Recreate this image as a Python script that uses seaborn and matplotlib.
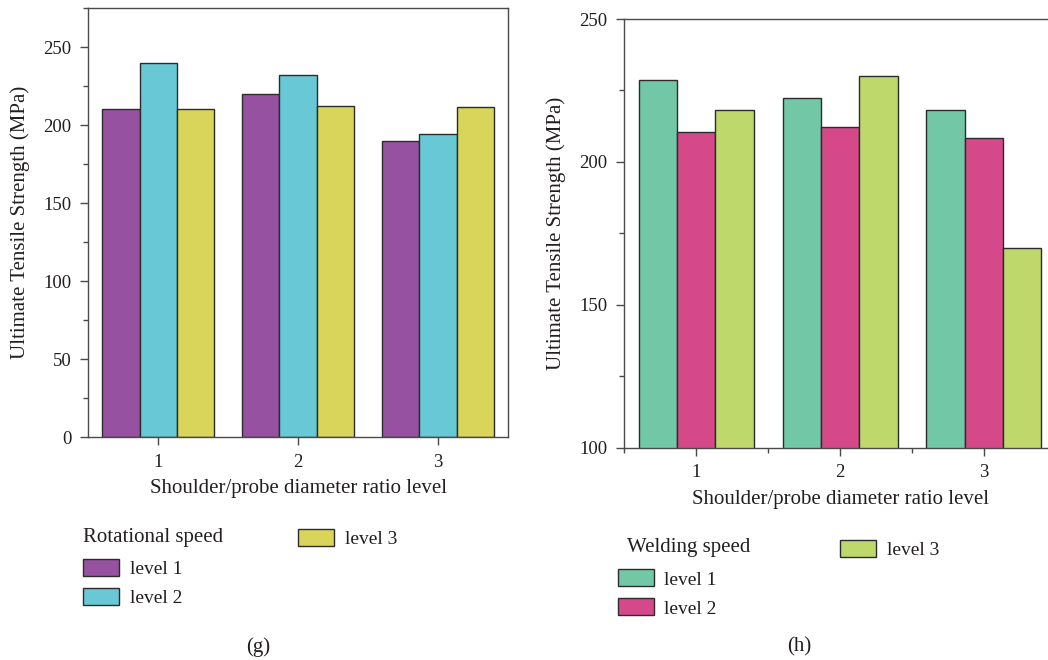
import numpy as np
import pandas as pd
import matplotlib.pyplot as plt
import seaborn as sns
from matplotlib.ticker import MultipleLocator, FixedLocator
from matplotlib.patches import Patch

# Categories
ratio_levels = ['1', '2', '3']
speed_levels = ['level 1', 'level 2', 'level 3']

# (g) UTS by rotational speed level
rot_level1 = [210, 220, 190]
rot_level2 = [240, 232, 194]
rot_level3 = [210, 212.5, 211.5]

# (h) UTS by welding speed level
weld_level1 = [228.5, 222.3, 218]
weld_level2 = [210.6, 212.1, 208.4]
weld_level3 = [218.3, 230.1, 170]

rot_colors = ['#9652A0', '#68C8D6', '#D9D55B']
weld_colors = ['#72C7A6', '#D5498B', '#BED86C']

txt = '#231F20'
spine_c = '#4a4a4a'
edge_c = '#2b2b2b'

sns.set_theme(style='ticks')
plt.rcParams['font.family'] = ['Liberation Serif', 'DejaVu Serif']
plt.rcParams['text.color'] = txt
plt.rcParams['axes.labelcolor'] = txt


def make_df(series):
    rows = []
    for lev, vals in zip(speed_levels, series):
        for r, v in zip(ratio_levels, vals):
            rows.append({'ratio': r, 'speed': lev, 'uts': v})
    return pd.DataFrame(rows)


df_g = make_df([rot_level1, rot_level2, rot_level3])
df_h = make_df([weld_level1, weld_level2, weld_level3])

W, H = 1048, 660
fig = plt.figure(figsize=(W / 100, H / 100), dpi=100)


def px_axes(x0, y0, x1, y1):
    return fig.add_axes([x0 / W, 1 - y1 / H, (x1 - x0) / W, (y1 - y0) / H])


ax_g = px_axes(88.3, 8, 508, 437.3)
ax_h = px_axes(624.3, 19, 1055.8, 447.7)

for ax, df, pal in [(ax_g, df_g, rot_colors), (ax_h, df_h, weld_colors)]:
    sns.barplot(data=df, x='ratio', y='uts', hue='speed', palette=pal,
                edgecolor=edge_c, linewidth=1, saturation=1, legend=False, ax=ax)
    ax.set_xlim(-0.5, 2.5)
    ax.set_xlabel('Shoulder/probe diameter ratio level', fontsize=15, labelpad=6)
    ax.set_ylabel('Ultimate Tensile Strength (MPa)', fontsize=15, labelpad=10)
    ax.tick_params(axis='both', which='major', direction='out', length=6, width=1,
                   color=spine_c, labelcolor=txt, labelsize=13.5, pad=6)
    ax.tick_params(axis='both', which='minor', direction='out', length=3.5, width=1,
                   color=spine_c)
    for s in ax.spines.values():
        s.set_color(spine_c)
        s.set_linewidth(1)

ax_g.set_ylim(0, 275)
ax_g.yaxis.set_major_locator(FixedLocator([0, 50, 100, 150, 200, 250]))
ax_g.yaxis.set_minor_locator(MultipleLocator(25))

ax_h.set_ylim(100, 250)
ax_h.yaxis.set_major_locator(MultipleLocator(50))
ax_h.yaxis.set_minor_locator(MultipleLocator(25))
ax_h.xaxis.set_minor_locator(FixedLocator([-0.5, 0.5, 1.5, 2.5]))


def px_legend(handles, labels, x, y):
    leg = fig.legend(handles, labels, loc='upper left',
                     bbox_to_anchor=(x / W, 1 - y / H), bbox_transform=fig.transFigure,
                     frameon=False, fontsize=14, borderpad=0, borderaxespad=0,
                     handlelength=1.85, handleheight=0.98, handletextpad=0.55,
                     labelspacing=0.5)
    return leg


def panel_legend(title, colors, title_xy, a_xy, b_xy):
    hs = [Patch(facecolor=c, edgecolor=edge_c, linewidth=1) for c in colors]
    px_legend(hs[:2], speed_levels[:2], *a_xy)
    px_legend(hs[2:], speed_levels[2:], *b_xy)
    fig.text(title_xy[0] / W, 1 - title_xy[1] / H, title, fontsize=15,
             ha='left', va='center')


panel_legend('Rotational speed', rot_colors, (83, 537.7), (83, 559), (298, 529))
panel_legend('Welding speed', weld_colors, (627.3, 547.7), (617.7, 569.3), (840.3, 539.7))

fig.text(258 / W, 1 - 646.7 / H, '(g)', fontsize=15, ha='center', va='center')
fig.text(799.3 / W, 1 - 646.7 / H, '(h)', fontsize=15, ha='center', va='center')

fig.savefig('out.png', dpi=100)
